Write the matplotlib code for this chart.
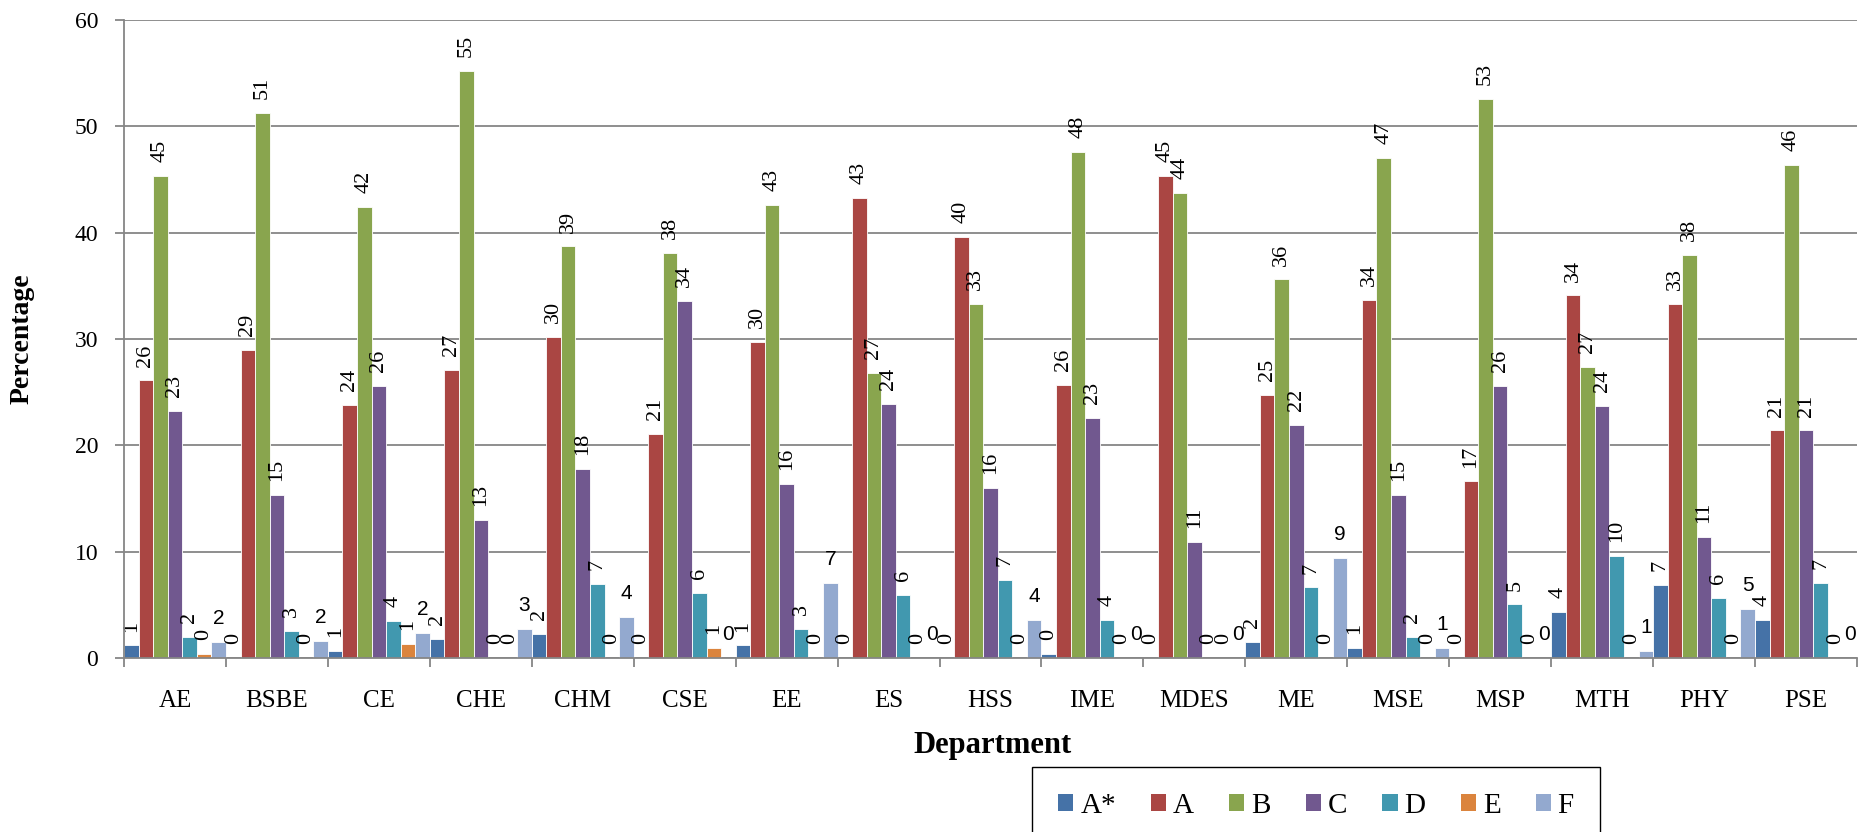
import matplotlib
matplotlib.use("Agg")
import matplotlib.pyplot as plt
from matplotlib.patches import Patch
import numpy as np

departments = ["AE", "BSBE", "CE", "CHE", "CHM", "CSE", "EE", "ES", "HSS",
               "IME", "MDES", "ME", "MSE", "MSP", "MTH", "PHY", "PSE"]
grades = ["A*", "A", "B", "C", "D", "E", "F"]

grade_Astar = [1.18, 0.0, 0.63, 1.8, 2.3, 0.0, 1.18, 0.0, 0.0, 0.34, 0.0, 1.52, 0.97, 0.0, 4.37, 6.85, 3.55]
grade_A = [26.1, 29.0, 23.8, 27.1, 30.2, 21.1, 29.7, 43.3, 39.6, 25.7, 45.3, 24.7, 33.7, 16.6, 34.1, 33.3, 21.4]
grade_B = [45.3, 51.3, 42.4, 55.2, 38.7, 38.1, 42.6, 26.8, 33.3, 47.6, 43.7, 35.6, 47.0, 52.6, 27.4, 37.9, 46.4]
grade_C = [23.2, 15.3, 25.6, 13.0, 17.8, 33.6, 16.4, 23.9, 16.0, 22.6, 10.9, 21.9, 15.3, 25.6, 23.7, 11.4, 21.4]
grade_D = [1.97, 2.55, 3.52, 0.0, 6.93, 6.1, 2.73, 5.9, 7.35, 3.6, 0.0, 6.64, 2.0, 5.04, 9.58, 5.67, 7.1]
grade_E = [0.34, 0.0, 1.34, 0.0, 0.0, 0.97, 0.0, 0.0, 0.0, 0.0, 0.0, 0.0, 0.0, 0.0, 0.0, 0.0, 0.0]
grade_F = [1.55, 1.64, 2.39, 2.73, 3.82, 0.0, 7.1, 0.0, 3.6, 0.0, 0.0, 9.37, 0.97, 0.0, 0.67, 4.58, 0.0]

series = [grade_Astar, grade_A, grade_B, grade_C, grade_D, grade_E, grade_F]
colors = ["#4572A7", "#AA4643", "#89A54E", "#71588F", "#4198AF", "#DB843D", "#93A9CF"]

plt.rcParams["font.family"] = ["Liberation Serif", "DejaVu Serif"]

W, H = 1859, 832
fig = plt.figure(figsize=(W / 100, H / 100), dpi=100)
ax = fig.add_axes([124 / W, 1 - 658 / H, (1857 - 124) / W, (658 - 20) / H])

n = len(grades)
bw = 1.0 / n
x = np.arange(len(departments))
grid_c = "#868686"

for j, (vals, c) in enumerate(zip(series, colors)):
    pos = x + (j - (n - 1) / 2) * bw
    ax.bar(pos, vals, width=bw, color=c, edgecolor="white", linewidth=0.6, zorder=3)
    for xp, v in zip(pos, vals):
        lab = f"{v:.0f}"
        if grades[j] == "F":
            ax.annotate(lab, (xp, v), xytext=(0, 10), textcoords="offset points",
                        ha="center", va="bottom", fontsize=15,
                        family=["Liberation Sans", "DejaVu Sans"], zorder=4)
        else:
            ax.annotate(lab, (xp, v), xytext=(0, 10), textcoords="offset points",
                        ha="center", va="bottom", rotation=90, fontsize=16, zorder=4)

ax.set_xlim(-0.5, len(departments) - 0.5)
ax.set_ylim(0, 60)
ax.set_yticks(np.arange(0, 61, 10))
ax.set_xticks(x)
ax.set_xticklabels(departments, fontsize=18)
ax.set_xticks(np.arange(-0.5, len(departments), 1.0), minor=True)
ax.tick_params(axis="x", which="major", length=0, pad=23)
ax.tick_params(axis="x", which="minor", length=6.5, width=1.3, color=grid_c, direction="out")
ax.tick_params(axis="y", which="major", length=6.5, width=1.3, color=grid_c, pad=12, labelsize=17)

ax.yaxis.grid(True, color=grid_c, linewidth=1.3, zorder=0)
ax.set_axisbelow(True)
for s in ["top", "right"]:
    ax.spines[s].set_visible(False)
for s in ["left", "bottom"]:
    ax.spines[s].set_color(grid_c)
    ax.spines[s].set_linewidth(1.3)
    ax.spines[s].set_zorder(5)

fig.text(22 / W, 1 - 339 / H, "Percentage", rotation=90, ha="center", va="center",
         fontsize=20, fontweight="bold")
fig.text(993 / W, 1 - 745 / H, "Department", ha="center", va="center",
         fontsize=22, fontweight="bold")

handles = [Patch(facecolor=c, edgecolor="none") for c in colors]
leg = fig.legend(handles, grades, loc="upper left", ncol=7,
                 bbox_to_anchor=(1032 / W, 1 - 767 / H), bbox_transform=fig.transFigure,
                 borderaxespad=0, fontsize=21, handlelength=0.52, handleheight=0.52,
                 handletextpad=0.24, columnspacing=1.2, borderpad=0.9,
                 fancybox=False, framealpha=1, edgecolor="black")
leg.get_frame().set_linewidth(1.0)

fig.savefig("out.png", dpi=100)
